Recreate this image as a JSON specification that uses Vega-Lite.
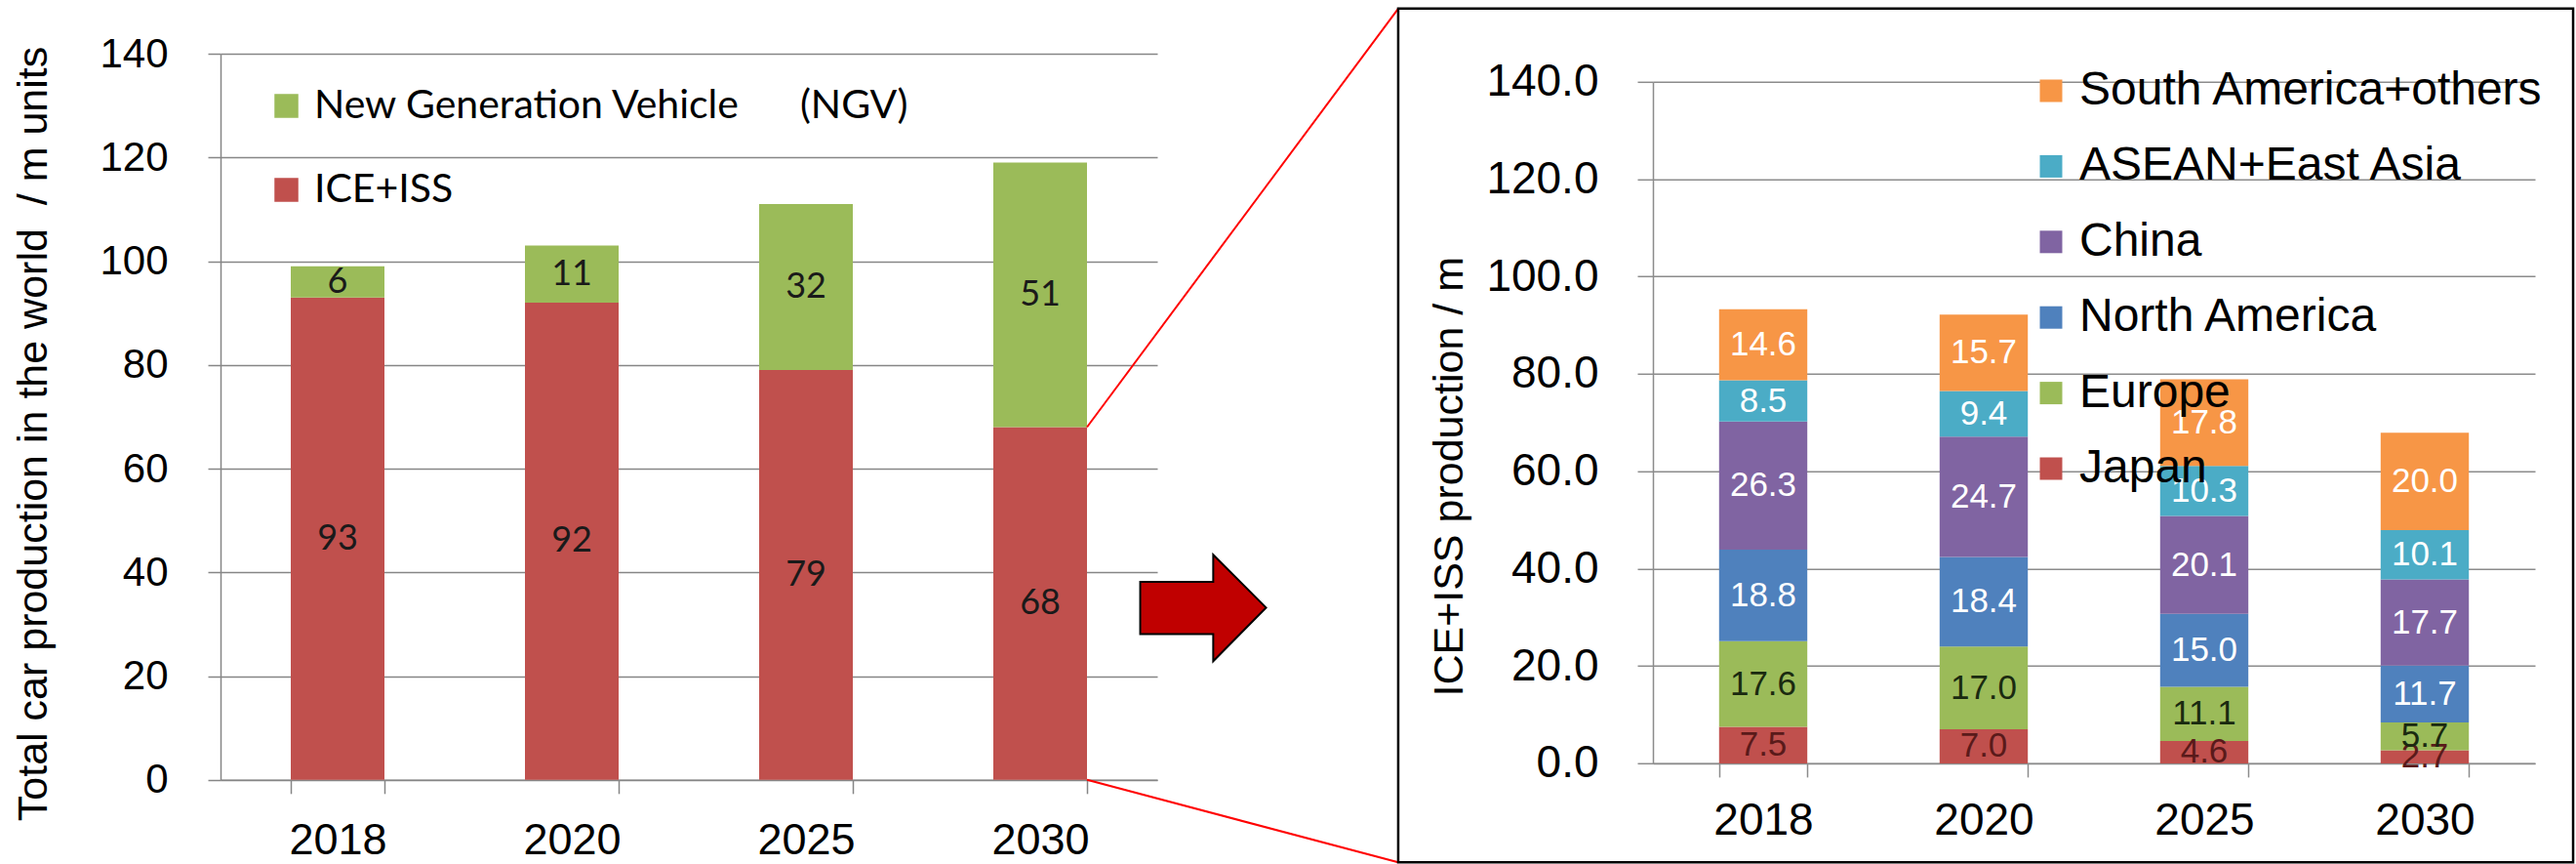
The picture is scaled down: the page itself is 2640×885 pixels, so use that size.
{
  "$schema": "https://vega.github.io/schema/vega-lite/v6.json",
  "background": "white",
  "padding": {"left": 13, "top": 7, "right": 0, "bottom": 0},
  "autosize": {"type": "pad"},
  "bounds": "flush",
  "spacing": 508,
  "resolve": {"scale": {"color": "independent"}, "legend": {"color": "independent"}},
  "config": {
    "view": {"stroke": null},
    "font": "Liberation Sans",
    "axis": {"labelColor": "black", "titleColor": "black", "titleFontWeight": "normal", "labelFont": "Liberation Sans", "titleFont": "Liberation Sans"}
  },
  "datasets": {
    "world": [
      {"year": "2018", "type": "ICE+ISS", "value": 93},
      {"year": "2018", "type": "New Generation Vehicle\u00a0\u00a0\u00a0\u00a0\u00a0\u00a0(NGV)", "value": 6},
      {"year": "2020", "type": "ICE+ISS", "value": 92},
      {"year": "2020", "type": "New Generation Vehicle\u00a0\u00a0\u00a0\u00a0\u00a0\u00a0(NGV)", "value": 11},
      {"year": "2025", "type": "ICE+ISS", "value": 79},
      {"year": "2025", "type": "New Generation Vehicle\u00a0\u00a0\u00a0\u00a0\u00a0\u00a0(NGV)", "value": 32},
      {"year": "2030", "type": "ICE+ISS", "value": 68},
      {"year": "2030", "type": "New Generation Vehicle\u00a0\u00a0\u00a0\u00a0\u00a0\u00a0(NGV)", "value": 51}
    ],
    "regions": [
      {"year": "2018", "region": "Japan", "value": 7.5},
      {"year": "2018", "region": "Europe", "value": 17.6},
      {"year": "2018", "region": "North America", "value": 18.8},
      {"year": "2018", "region": "China", "value": 26.3},
      {"year": "2018", "region": "ASEAN+East Asia", "value": 8.5},
      {"year": "2018", "region": "South America+others", "value": 14.6},
      {"year": "2020", "region": "Japan", "value": 7.0},
      {"year": "2020", "region": "Europe", "value": 17.0},
      {"year": "2020", "region": "North America", "value": 18.4},
      {"year": "2020", "region": "China", "value": 24.7},
      {"year": "2020", "region": "ASEAN+East Asia", "value": 9.4},
      {"year": "2020", "region": "South America+others", "value": 15.7},
      {"year": "2025", "region": "Japan", "value": 4.6},
      {"year": "2025", "region": "Europe", "value": 11.1},
      {"year": "2025", "region": "North America", "value": 15.0},
      {"year": "2025", "region": "China", "value": 20.1},
      {"year": "2025", "region": "ASEAN+East Asia", "value": 10.3},
      {"year": "2025", "region": "South America+others", "value": 17.8},
      {"year": "2030", "region": "Japan", "value": 2.7},
      {"year": "2030", "region": "Europe", "value": 5.7},
      {"year": "2030", "region": "North America", "value": 11.7},
      {"year": "2030", "region": "China", "value": 17.7},
      {"year": "2030", "region": "ASEAN+East Asia", "value": 10.1},
      {"year": "2030", "region": "South America+others", "value": 20.0}
    ]
  },
  "hconcat": [
    {
      "width": 960,
      "height": 743.8,
      "layer": [
        {
          "data": {"name": "world"},
          "transform": [
            {"stack": "value", "groupby": ["year"], "sort": [{"field": "type", "order": "ascending"}], "as": ["v0", "v1"]},
            {"calculate": "(datum.v0 + datum.v1) / 2", "as": "vmid"}
          ],
          "layer": [
            {
              "mark": {"type": "bar"},
              "encoding": {
                "x": {"field": "year", "type": "nominal", "scale": {"paddingInner": 0.6, "paddingOuter": 0.3},
                  "axis": {"title": null, "labelAngle": 0, "labelFontSize": 45, "tickBand": "extent", "tickSize": 14, "tickColor": "#868686", "tickWidth": 1.5, "domainColor": "#868686", "domainWidth": 1.5, "labelPadding": 26, "grid": false}},
                "y": {"field": "v0", "type": "quantitative", "scale": {"domain": [0, 140], "nice": false},
                  "axis": {"title": "Total car production in the world\u00a0 / m units", "titleFontSize": 43, "titlePadding": 45, "titleY": 389, "values": [0, 20, 40, 60, 80, 100, 120, 140], "labelFontSize": 42, "labelPadding": 41, "tickSize": 13, "tickColor": "#868686", "tickWidth": 1.5, "grid": true, "gridColor": "#868686", "gridWidth": 1.5, "domainColor": "#868686", "domainWidth": 1.5}},
                "y2": {"field": "v1"},
                "color": {"field": "type", "type": "nominal",
                  "scale": {"domain": ["New Generation Vehicle\u00a0\u00a0\u00a0\u00a0\u00a0\u00a0(NGV)", "ICE+ISS"], "range": ["#9BBB59", "#C0504D"]},
                  "legend": {"orient": "none", "legendX": 47, "legendY": 33, "title": null, "symbolType": "square", "symbolSize": 600, "symbolStrokeWidth": 0, "labelFont": "Lato", "labelFontSize": 41, "labelColor": "black", "labelOffset": 8, "rowPadding": 44, "padding": 0, "labelLimit": 0}}
              }
            },
            {
              "mark": {"type": "text", "font": "Lato", "fontSize": 36, "color": "#1a1a1a"},
              "encoding": {
                "x": {"field": "year", "type": "nominal"},
                "y": {"field": "vmid", "type": "quantitative"},
                "text": {"field": "value", "type": "quantitative"}
              }
            }
          ]
        },
        {
          "data": {"values": [{}]},
          "layer": [
            {
              "mark": {"type": "rule", "color": "#FF0000", "strokeWidth": 2},
              "encoding": {
                "x": {"datum": 3.7, "type": "quantitative", "scale": {"domain": [0, 4], "nice": false, "zero": false}, "axis": null},
                "x2": {"datum": 5.029},
                "y": {"datum": 68, "type": "quantitative"},
                "y2": {"datum": 148.7}
              }
            },
            {
              "mark": {"type": "rule", "color": "#FF0000", "strokeWidth": 2},
              "encoding": {
                "x": {"datum": 3.7, "type": "quantitative"},
                "x2": {"datum": 5.029},
                "y": {"datum": 0, "type": "quantitative"},
                "y2": {"datum": -15.9}
              }
            },
            {
              "mark": {"type": "rect", "fill": null, "fillOpacity": 0, "stroke": "black", "strokeWidth": 2.5},
              "encoding": {
                "x": {"datum": 5.029, "type": "quantitative"},
                "x2": {"datum": 10.046},
                "y": {"datum": -15.9, "type": "quantitative"},
                "y2": {"datum": 148.7}
              }
            },
            {
              "mark": {"type": "point", "shape": "M-1,-0.41L0.16,-0.41L0.16,-0.84L1,0L0.16,0.85L0.16,0.42L-1,0.42Z", "size": 16641, "filled": true, "fill": "#C00000", "stroke": "black", "strokeWidth": 2, "opacity": 1},
              "encoding": {
                "x": {"datum": 4.196, "type": "quantitative"},
                "y": {"datum": 33.2, "type": "quantitative"}
              }
            }
          ]
        }
      ],
      "resolve": {"scale": {"x": "independent"}}
    },
    {
      "bounds": "flush",
      "spacing": 27.8,
      "vconcat": [
        {
          "width": 904,
          "height": 1,
          "data": {"values": [{}]},
          "mark": {"type": "point", "opacity": 0},
          "encoding": {}
        },
        {
          "width": 904,
          "height": 698.1,
          "data": {"name": "regions"},
          "transform": [
            {"calculate": "indexof(['Japan','Europe','North America','China','ASEAN+East Asia','South America+others'], datum.region)", "as": "ord"},
            {"stack": "value", "groupby": ["year"], "sort": [{"field": "ord", "order": "ascending"}], "as": ["v0", "v1"]},
            {"calculate": "(datum.v0 + datum.v1) / 2", "as": "vmid"}
          ],
          "layer": [
            {
              "mark": {"type": "bar"},
              "encoding": {
                "x": {"field": "year", "type": "nominal", "scale": {"paddingInner": 0.6, "paddingOuter": 0.3},
                  "axis": {"title": null, "labelAngle": 0, "labelFontSize": 46, "tickBand": "extent", "tickSize": 14, "tickColor": "#8c8c8c", "tickWidth": 1.5, "domainColor": "#8c8c8c", "domainWidth": 1.5, "labelPadding": 23, "grid": false}},
                "y": {"field": "v0", "type": "quantitative", "scale": {"domain": [0, 140], "nice": false},
                  "axis": {"title": "ICE+ISS production / m", "titleFontSize": 43, "titlePadding": 15, "titleY": 404, "values": [0, 20, 40, 60, 80, 100, 120, 140], "format": ".1f", "labelFontSize": 46, "labelPadding": 40, "tickSize": 16, "tickColor": "#8c8c8c", "tickWidth": 1.5, "grid": true, "gridColor": "#8c8c8c", "gridWidth": 1.5, "domainColor": "#8c8c8c", "domainWidth": 1.5}},
                "y2": {"field": "v1"},
                "color": {"field": "region", "type": "nominal",
                  "scale": {"domain": ["South America+others", "ASEAN+East Asia", "China", "North America", "Europe", "Japan"], "range": ["#F79646", "#4BACC6", "#8064A2", "#4F81BD", "#9BBB59", "#C0504D"]},
                  "legend": {"orient": "none", "legendX": 384, "legendY": 14, "title": null, "symbolType": "square", "symbolSize": 529, "symbolStrokeWidth": 0, "labelFont": "Liberation Sans", "labelFontSize": 48, "labelColor": "black", "labelOffset": 5, "rowPadding": 29.4, "padding": 0, "labelLimit": 0}}
              }
            },
            {
              "mark": {"type": "text", "fontSize": 35},
              "encoding": {
                "x": {"field": "year", "type": "nominal"},
                "y": {"field": "vmid", "type": "quantitative"},
                "text": {"field": "value", "type": "quantitative", "format": ".1f"},
                "color": {"condition": [{"test": "datum.region === 'Japan'", "value": "#5a1a1a"}, {"test": "datum.region === 'Europe'", "value": "#1a2a10"}], "value": "#ffffff"}
              }
            }
          ]
        }
      ]
    }
  ]
}
